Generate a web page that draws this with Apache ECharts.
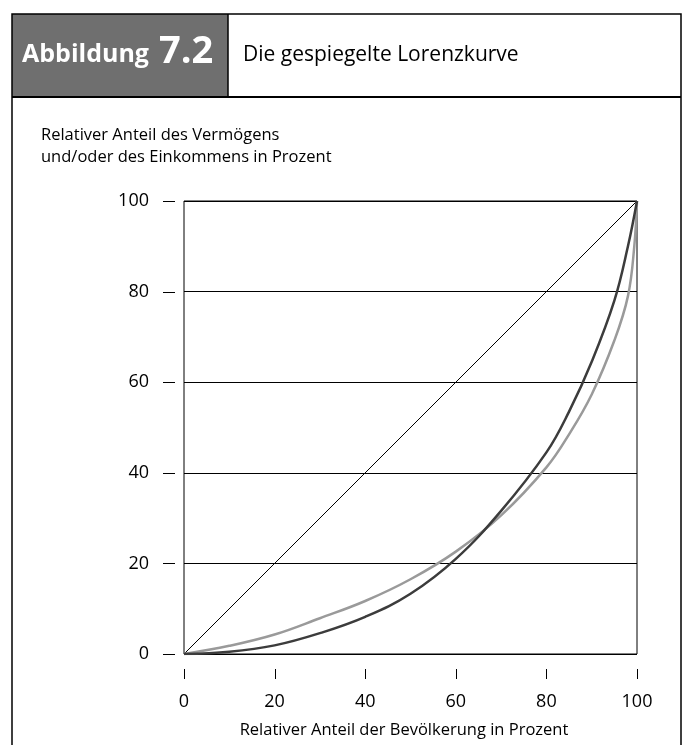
<!DOCTYPE html>
<html>
<head>
<meta charset="utf-8">
<script src="https://cdn.jsdelivr.net/npm/echarts@6/dist/echarts.min.js"></script>
<style>
html,body{margin:0;padding:0;background:#fff;}
#main{width:688px;height:745px;}
</style>
</head>
<body>
<div id="main"></div>
<script>
// Data
var xTicks = [0, 20, 40, 60, 80, 100];
var yTicks = [0, 20, 40, 60, 80, 100];
var equalityX = [0, 100];
var equalityY = [0, 100];
var darkX = [0, 10, 20, 30, 40, 50, 60, 70, 80, 85, 90, 95, 98, 100];
var darkY = [0, 0.5, 1.9, 4.6, 8.2, 13.3, 21.0, 31.6, 44.5, 53.5, 64.5, 78, 90, 100];
var grayX = [0, 10, 20, 30, 40, 50, 60, 70, 80, 85, 90, 95, 98, 99.4, 100];
var grayY = [0, 1.8, 4.3, 7.9, 11.7, 16.5, 22.6, 30.6, 41.2, 48.5, 57.3, 69.2, 79, 90, 100];

var titleLabel = 'Abbildung';
var titleNumber = '7.2';
var titleText = 'Die gespiegelte Lorenzkurve';
var yName = ['Relativer Anteil des Vermögens', 'und/oder des Einkommens in Prozent'];
var xName = 'Relativer Anteil der Bevölkerung in Prozent';

function pairs(xs, ys) { return xs.map(function (x, i) { return [x, ys[i]]; }); }

var FONT = '"Open Sans", "Noto Sans", sans-serif';
var chart = echarts.init(document.getElementById('main'), null, {renderer: 'canvas'});

var header = [
  {type: 'rect', shape: {x: 12, y: 14, width: 216, height: 83}, style: {fill: '#6f6f6f'}, z: 0},
  {type: 'polyline', shape: {points: [[12, 745], [12, 14], [681, 14], [681, 745]]}, style: {stroke: '#000', lineWidth: 1.5, fill: null}},
  {type: 'line', shape: {x1: 12, y1: 97, x2: 681, y2: 97}, style: {stroke: '#000', lineWidth: 2}},
  {type: 'line', shape: {x1: 228, y1: 14, x2: 228, y2: 97}, style: {stroke: '#000', lineWidth: 1.5}},
  {type: 'text', x: 22, y: 55, style: {text: titleLabel, fill: '#fff', font: 'bold 25px ' + FONT, verticalAlign: 'middle', align: 'left'}},
  {type: 'text', x: 159, y: 52, style: {text: titleNumber, fill: '#fff', font: 'bold 38px ' + FONT, verticalAlign: 'middle', align: 'left'}},
  {type: 'text', x: 243, y: 55, style: {text: titleText, fill: '#000', font: '21px ' + FONT, verticalAlign: 'middle', align: 'left'}},
  {type: 'text', x: 41, y: 135, style: {text: yName[0], fill: '#000', font: '16.5px ' + FONT, verticalAlign: 'middle', align: 'left'}},
  {type: 'text', x: 41, y: 157, style: {text: yName[1], fill: '#000', font: '16.5px ' + FONT, verticalAlign: 'middle', align: 'left'}},
  {type: 'text', x: 404, y: 730, style: {text: xName, fill: '#000', font: '16.5px ' + FONT, verticalAlign: 'middle', align: 'center'}}
];

chart.setOption({
  animation: false,
  backgroundColor: '#fff',
  grid: {left: 184, right: 51, top: 201, bottom: 91, show: true, borderColor: '#000', borderWidth: 1, containLabel: false},
  xAxis: {
    type: 'value', min: xTicks[0], max: xTicks[xTicks.length - 1], interval: 20,
    offset: 15,
    axisLine: {show: false},
    axisTick: {show: false},
    axisLabel: {margin: 24, color: '#000', fontSize: 18, fontFamily: FONT},
    splitLine: {show: false}
  },
  yAxis: {
    type: 'value', min: yTicks[0], max: yTicks[yTicks.length - 1], interval: 20,
    offset: 10,
    axisLine: {show: false},
    axisTick: {show: false},
    axisLabel: {margin: 25, color: '#000', fontSize: 18, fontFamily: FONT},
    splitLine: {show: true, lineStyle: {color: '#000', width: 1}}
  },
  series: [
    {type: 'line', data: pairs(equalityX, equalityY), showSymbol: false, lineStyle: {color: '#000', width: 1}, silent: true},
    {type: 'line', data: pairs(grayX, grayY), showSymbol: false, smooth: 0.4, lineStyle: {color: '#9a9a9a', width: 2.5}, silent: true},
    {type: 'line', data: pairs(darkX, darkY), showSymbol: false, smooth: 0.4, lineStyle: {color: '#3c3c3c', width: 2.5}, silent: true}
  ],
  graphic: header
});

// Detached tick marks, positioned through the chart's own scales
var ticks = [];
xTicks.forEach(function (v) {
  var p = chart.convertToPixel({gridIndex: 0}, [v, 0]);
  var x = Math.round(p[0]) + 0.5;
  ticks.push({type: 'line', shape: {x1: x, y1: p[1] + 15, x2: x, y2: p[1] + 25}, style: {stroke: '#000', lineWidth: 1}});
});
yTicks.forEach(function (v) {
  var p = chart.convertToPixel({gridIndex: 0}, [0, v]);
  var y = Math.round(p[1]) + 0.5;
  ticks.push({type: 'line', shape: {x1: p[0] - 21, y1: y, x2: p[0] - 9, y2: y}, style: {stroke: '#000', lineWidth: 1}});
});
chart.setOption({graphic: header.concat(ticks)});
</script>
</body>
</html>
